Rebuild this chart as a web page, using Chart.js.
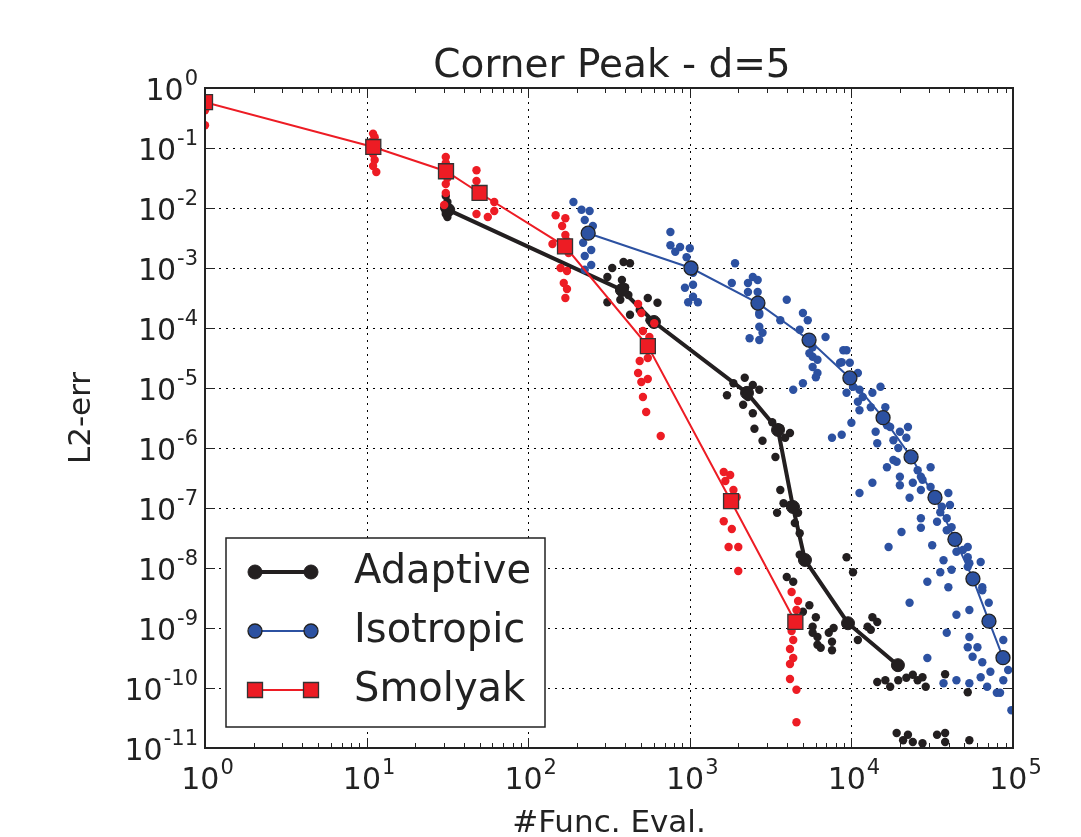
<!DOCTYPE html>
<html>
<head>
<meta charset="utf-8">
<script src="https://cdn.jsdelivr.net/npm/chart.js@4.4.1/dist/chart.umd.min.js"></script>
<style>
  body { margin: 0; background: #fff; }
</style>
</head>
<body>
<canvas id="errChart" width="1081" height="837"></canvas>
<script>
// main curves
const adaptiveEvals = [32, 380, 600, 2260, 3515, 4350, 5160, 9530, 19400];
const adaptiveErr = [9.3e-3, 4.3e-4, 1.26e-4, 8.3e-6, 2.0e-6, 1.04e-7, 1.36e-8, 1.2e-9, 2.4e-10];
const isoEvals = [235, 1017, 2640, 5470, 9790, 15700, 23400, 32900, 43700, 56500, 71000, 86700];
const isoErr = [3.8e-3, 1.0e-3, 2.6e-4, 6.3e-5, 1.47e-5, 3.2e-6, 7.1e-7, 1.5e-7, 3.0e-8, 6.6e-9, 1.3e-9, 3.2e-10];
const smolEvals = [1, 11, 31, 50, 169, 550, 1800, 4500];
const smolErr = [0.58, 0.104, 0.041, 0.0178, 2.3e-3, 5.0e-5, 1.3e-7, 1.26e-9];

// scattered runs, stored as [log10(#evals), log10(err)]
const adaptiveCloud = [
  [1.49,-1.80],[1.50,-1.90],[1.48,-2.00],[1.49,-2.10],[1.50,-2.15],
  [2.52,-3.00],[2.59,-2.90],[2.63,-2.92],[2.49,-3.15],[2.60,-3.32],[2.57,-3.53],[2.49,-3.57],
  [2.74,-3.50],[2.80,-3.58],[2.63,-3.78],[2.75,-3.87],[2.69,-3.70],[2.62,-3.45],[2.58,-3.20],
  [3.23,-5.12],[3.27,-4.92],[3.34,-4.83],[3.39,-4.95],[3.43,-5.03],[3.36,-5.15],[3.33,-5.28],
  [3.39,-5.42],[3.40,-5.68],[3.45,-5.88],[3.51,-5.57],[3.56,-5.67],[3.62,-5.75],[3.59,-5.83],
  [3.53,-6.15],[3.56,-6.70],[3.58,-6.92],[3.54,-7.08],[3.62,-6.95],[3.67,-7.08],[3.65,-7.25],
  [3.68,-7.42],[3.68,-7.78],[3.97,-7.82],[4.01,-8.07],[3.60,-8.15],[3.64,-8.23],
  [3.74,-8.62],[3.70,-8.73],[3.78,-8.82],[3.76,-8.98],[3.76,-9.08],[3.79,-9.15],[3.79,-9.28],
  [3.81,-9.33],[3.88,-9.23],[3.88,-9.37],[3.86,-9.08],[3.89,-9.00],
  [4.04,-9.20],[4.10,-8.98],[4.13,-8.82],[4.16,-8.90],[4.12,-9.03],
  [4.16,-9.90],[4.21,-9.87],[4.24,-9.98],[4.29,-9.87],[4.34,-9.83],[4.38,-9.78],[4.41,-9.87],
  [4.44,-9.82],[4.46,-9.98],[4.58,-9.77],[4.72,-10.07],
  [4.28,-10.75],[4.32,-10.87],[4.35,-10.78],[4.38,-10.90],[4.44,-10.92],[4.53,-10.78],
  [4.58,-10.75],[4.58,-10.90],[4.73,-10.87]
];
const isoCloud = [
  [2.28,-1.90],[2.33,-2.03],[2.38,-2.05],[2.35,-2.20],[2.40,-2.30],[2.37,-2.45],[2.34,-2.58],
  [2.39,-2.70],[2.35,-2.80],[2.39,-2.95],[2.35,-3.03],
  [2.88,-2.40],[2.88,-2.62],[2.94,-2.65],[3.00,-2.67],[2.91,-2.73],[2.98,-2.82],[2.97,-3.33],
  [3.02,-3.08],[3.02,-3.28],[3.02,-3.48],[2.99,-3.57],[3.05,-3.57],
  [3.28,-2.92],[3.26,-3.25],[3.36,-3.25],[3.36,-3.40],[3.39,-3.15],[3.42,-3.20],[3.42,-3.40],
  [3.43,-3.58],[3.43,-3.78],[3.43,-3.98],[3.37,-4.17],[3.43,-4.20],[3.43,-3.75],[3.45,-4.08],
  [3.60,-3.53],[3.56,-3.87],[3.70,-3.75],[3.73,-3.87],[3.68,-4.03],[3.84,-4.15],[3.76,-4.32],
  [3.76,-4.48],[3.76,-4.65],[3.79,-4.75],[3.78,-4.82],[3.93,-4.58],[3.97,-4.37],[3.94,-4.57],
  [3.64,-5.03],[3.70,-4.92],[3.74,-4.42],[3.79,-4.53],
  [3.95,-4.37],[3.99,-4.58],[4.04,-4.75],[3.97,-5.08],[4.05,-5.03],[4.04,-5.23],[4.05,-5.37],
  [4.18,-4.98],[4.13,-5.08],[4.21,-5.32],[4.00,-5.58],[3.88,-5.83],[3.94,-5.78],[4.15,-5.73],
  [4.16,-5.92],[4.24,-5.65],[4.30,-5.73],[4.34,-5.83],[4.35,-5.65],
  [4.01,-4.98],[4.07,-5.15],[4.12,-5.32],[4.22,-5.62],[4.26,-5.87],[4.29,-6.00],
  [4.22,-6.32],[4.28,-6.23],[4.30,-6.48],[4.30,-6.62],[4.13,-6.58],[4.05,-6.75],[4.26,-6.20],
  [4.36,-6.83],[4.43,-6.48],[4.49,-6.32],[4.38,-6.58],[4.43,-6.70],[4.60,-6.75],[4.61,-6.95],
  [4.56,-6.98],[4.41,-6.37],[4.44,-6.53],[4.49,-6.65],
  [4.43,-7.17],[4.53,-7.23],[4.59,-7.17],[4.62,-7.32],[4.31,-7.40],[4.43,-7.33],[4.50,-7.62],
  [4.23,-7.65],[4.72,-7.65],[4.72,-7.82],[4.65,-7.73],[4.80,-7.90],[4.57,-7.87],[4.62,-8.03],
  [4.55,-8.07],[4.72,-7.98],[4.55,-7.07],[4.59,-7.37],[4.69,-7.70],[4.73,-7.92],
  [4.47,-8.23],[4.60,-8.32],[4.81,-8.32],[4.36,-8.58],[4.65,-8.78],[4.73,-8.70],[4.81,-8.37],
  [4.85,-8.58],
  [4.59,-9.08],[4.73,-9.15],[4.72,-9.32],[4.78,-9.32],[4.75,-9.48],[4.81,-9.57],[4.86,-9.73],
  [4.47,-9.50],[4.57,-9.92],[4.65,-9.87],[4.73,-9.92],[4.80,-9.82],[4.84,-9.98],[4.92,-10.08],
  [4.94,-9.87],[4.94,-9.20],[4.90,-10.08],[4.99,-10.37],[4.97,-9.70]
];
const smolCloud = [
  [0,-0.30],[0,-0.37],[0,-0.62],
  [1.04,-0.76],[1.05,-0.82],[1.03,-0.90],[1.05,-0.97],[1.04,-1.10],[1.05,-1.20],[1.04,-1.30],[1.06,-1.40],
  [1.49,-1.15],[1.49,-1.25],[1.48,-1.35],[1.50,-1.50],[1.49,-1.60],[1.49,-1.75],[1.48,-1.95],
  [1.68,-1.37],[1.68,-1.55],[1.68,-1.75],[1.68,-2.10],[1.75,-2.15],[1.79,-1.90],[1.79,-2.05],
  [2.17,-2.12],[2.23,-2.17],[2.21,-2.30],[2.23,-2.45],[2.24,-2.55],[2.15,-2.60],[2.25,-2.75],
  [2.20,-3.00],[2.24,-3.05],[2.22,-3.25],[2.24,-3.35],[2.23,-3.50],
  [2.68,-3.60],[2.70,-3.75],[2.71,-4.05],[2.78,-3.92],[2.75,-4.15],[2.76,-4.30],[2.74,-4.50],
  [2.69,-4.55],[2.68,-4.75],[2.70,-4.90],[2.74,-4.85],[2.71,-5.15],[2.73,-5.40],[2.82,-5.80],
  [3.21,-6.40],[3.25,-6.45],[3.22,-6.55],[3.27,-6.70],[3.29,-6.82],[3.21,-7.22],[3.26,-7.35],
  [3.24,-7.65],[3.30,-7.65],[3.30,-8.05],
  [3.63,-8.40],[3.67,-8.55],[3.66,-8.70],[3.63,-9.05],[3.64,-9.20],[3.62,-9.35],[3.64,-9.50],
  [3.62,-9.60],[3.62,-9.85],[3.66,-10.03],[3.66,-10.57]
];

const xDecades = [0, 1, 2, 3, 4, 5];
const yDecades = [0, -1, -2, -3, -4, -5, -6, -7, -8, -9, -10, -11];

const BLACK = '#231f20';
const BLUE = '#2c51a1';
const RED = '#ed1c24';
const FONT = '"DejaVu Sans", sans-serif';

function pts(xs, ys) { return xs.map((x, i) => ({ x: x, y: ys[i] })); }
function fromLog(arr) { return arr.map(p => ({ x: Math.pow(10, p[0]), y: Math.pow(10, p[1]) })); }

// draws 10^e with a raised exponent
function drawPow(ctx, e, x, y, align) {
  const base = '10', sup = e < 0 ? '-' + (-e) : String(e);
  ctx.font = '30px ' + FONT;
  const wb = ctx.measureText(base).width;
  ctx.font = '21px ' + FONT;
  const ws = ctx.measureText(sup).width;
  let left = align === 'right' ? x - wb - ws : x - (wb + ws) / 2;
  ctx.textAlign = 'left';
  ctx.textBaseline = 'alphabetic';
  ctx.font = '30px ' + FONT;
  ctx.fillText(base, left, y);
  ctx.font = '21px ' + FONT;
  ctx.fillText(sup, left + wb + 1, y - 15);
}

const axesPlugin = {
  id: 'axesPlugin',
  beforeDatasetsDraw(chart) {
    const { ctx, chartArea: a, scales: { x, y } } = chart;
    ctx.save();
    ctx.strokeStyle = '#000';
    ctx.lineWidth = 1;
    ctx.setLineDash([2, 5]);
    xDecades.slice(1, -1).forEach(d => {
      const px = Math.round(x.getPixelForValue(Math.pow(10, d))) + 0.5;
      ctx.beginPath(); ctx.moveTo(px, a.top); ctx.lineTo(px, a.bottom); ctx.stroke();
    });
    yDecades.slice(1, -1).forEach(d => {
      const py = Math.round(y.getPixelForValue(Math.pow(10, d))) + 0.5;
      ctx.beginPath(); ctx.moveTo(a.left, py); ctx.lineTo(a.right, py); ctx.stroke();
    });
    ctx.restore();
  },
  afterDatasetsDraw(chart) {
    const { ctx, chartArea: a, scales: { x, y } } = chart;
    ctx.save();
    ctx.strokeStyle = '#222';
    ctx.lineWidth = 1;
    // x ticks, major and minor, top and bottom
    xDecades.forEach(d => {
      for (let m = 1; m <= 9; m++) {
        const v = m * Math.pow(10, d);
        if (v > 1e5) break;
        const px = Math.round(x.getPixelForValue(v)) + 0.5;
        const len = m === 1 ? 10 : 5;
        ctx.beginPath();
        ctx.moveTo(px, a.bottom); ctx.lineTo(px, a.bottom - len);
        ctx.moveTo(px, a.top); ctx.lineTo(px, a.top + len);
        ctx.stroke();
      }
    });
    yDecades.forEach(d => {
      const py = Math.round(y.getPixelForValue(Math.pow(10, d))) + 0.5;
      ctx.beginPath();
      ctx.moveTo(a.left, py); ctx.lineTo(a.left + 10, py);
      ctx.moveTo(a.right, py); ctx.lineTo(a.right - 10, py);
      ctx.stroke();
    });
    // frame
    ctx.lineWidth = 2;
    ctx.strokeStyle = '#222';
    ctx.strokeRect(a.left, a.top, a.right - a.left, a.bottom - a.top);

    // tick labels
    ctx.fillStyle = '#222';
    xDecades.forEach(d => {
      drawPow(ctx, d, x.getPixelForValue(Math.pow(10, d)) + 2, a.bottom + 41, 'center');
    });
    yDecades.forEach(d => {
      drawPow(ctx, d, a.left - 8, y.getPixelForValue(Math.pow(10, d)) + 12, 'right');
    });

    // title and axis labels
    ctx.textAlign = 'center';
    ctx.textBaseline = 'alphabetic';
    ctx.font = '39px ' + FONT;
    ctx.fillText('Corner Peak - d=5', 612, 77);
    ctx.font = '31px ' + FONT;
    ctx.fillText('#Func. Eval.', (a.left + a.right) / 2, 832);
    ctx.save();
    ctx.translate(90, (a.top + a.bottom) / 2);
    ctx.rotate(-Math.PI / 2);
    ctx.fillText('L2-err', 0, 0);
    ctx.restore();

    // legend inside the plot
    const box = { x: 226, y: 538, w: 319, h: 189 };
    ctx.fillStyle = '#fff';
    ctx.fillRect(box.x, box.y, box.w, box.h);
    ctx.lineWidth = 1.5;
    ctx.strokeStyle = '#222';
    ctx.strokeRect(box.x, box.y, box.w, box.h);
    const rows = chart.data.datasets.filter(ds => ds.legend);
    rows.forEach((ds, i) => {
      const ry = 572 + i * 59;
      const x0 = 255, x1 = 311;
      ctx.strokeStyle = ds.borderColor;
      ctx.lineWidth = ds.borderWidth;
      ctx.beginPath(); ctx.moveTo(x0, ry); ctx.lineTo(x1, ry); ctx.stroke();
      [x0, x1].forEach(mx => {
        ctx.fillStyle = ds.pointBackgroundColor;
        ctx.strokeStyle = ds.pointBorderColor;
        ctx.lineWidth = ds.pointBorderWidth;
        ctx.beginPath();
        if (ds.pointStyle === 'rect') {
          ctx.rect(mx - 7.5, ry - 7.5, 15, 15);
        } else {
          ctx.arc(mx, ry, 7, 0, Math.PI * 2);
        }
        ctx.fill(); ctx.stroke();
      });
      ctx.fillStyle = '#222';
      ctx.textAlign = 'left';
      ctx.textBaseline = 'middle';
      ctx.font = '40px ' + FONT;
      ctx.fillText(ds.label, 354, ry + 1);
    });
    ctx.restore();
  }
};

const cloudStyle = { showLine: false, pointRadius: 4.2, pointBorderWidth: 0, pointHoverRadius: 4.2, clip: 0 };

new Chart(document.getElementById('errChart').getContext('2d'), {
  type: 'scatter',
  data: {
    datasets: [
      Object.assign({ label: 'adaptive runs', data: fromLog(adaptiveCloud), backgroundColor: BLACK, order: 6 }, cloudStyle),
      {
        label: 'Adaptive', legend: true, data: pts(adaptiveEvals, adaptiveErr), showLine: true, order: 5,
        borderColor: BLACK, borderWidth: 4, pointStyle: 'circle', pointRadius: 6.5,
        pointBackgroundColor: BLACK, pointBorderColor: BLACK, pointBorderWidth: 1, clip: 0
      },
      Object.assign({ label: 'isotropic runs', data: fromLog(isoCloud), backgroundColor: BLUE, order: 4 }, cloudStyle),
      {
        label: 'Isotropic', legend: true, data: pts(isoEvals, isoErr), showLine: true, order: 3,
        borderColor: BLUE, borderWidth: 2, pointStyle: 'circle', pointRadius: 7,
        pointBackgroundColor: BLUE, pointBorderColor: '#222', pointBorderWidth: 1.3, clip: 0
      },
      Object.assign({ label: 'smolyak runs', data: fromLog(smolCloud), backgroundColor: RED, order: 2 }, cloudStyle),
      {
        label: 'Smolyak', legend: true, data: pts(smolEvals, smolErr), showLine: true, order: 1,
        borderColor: RED, borderWidth: 2, pointStyle: 'rect', pointRadius: 10.6,
        pointBackgroundColor: RED, pointBorderColor: '#333', pointBorderWidth: 1.3, clip: 0
      }
    ]
  },
  options: {
    responsive: false,
    animation: false,
    layout: { padding: { left: 205, right: 68, top: 88, bottom: 89 } },
    scales: {
      x: { type: 'logarithmic', min: 1, max: 1e5, display: false },
      y: { type: 'logarithmic', min: 1e-11, max: 1, display: false }
    },
    plugins: {
      legend: { display: false },
      tooltip: { enabled: false }
    }
  },
  plugins: [axesPlugin]
});
</script>
</body>
</html>
